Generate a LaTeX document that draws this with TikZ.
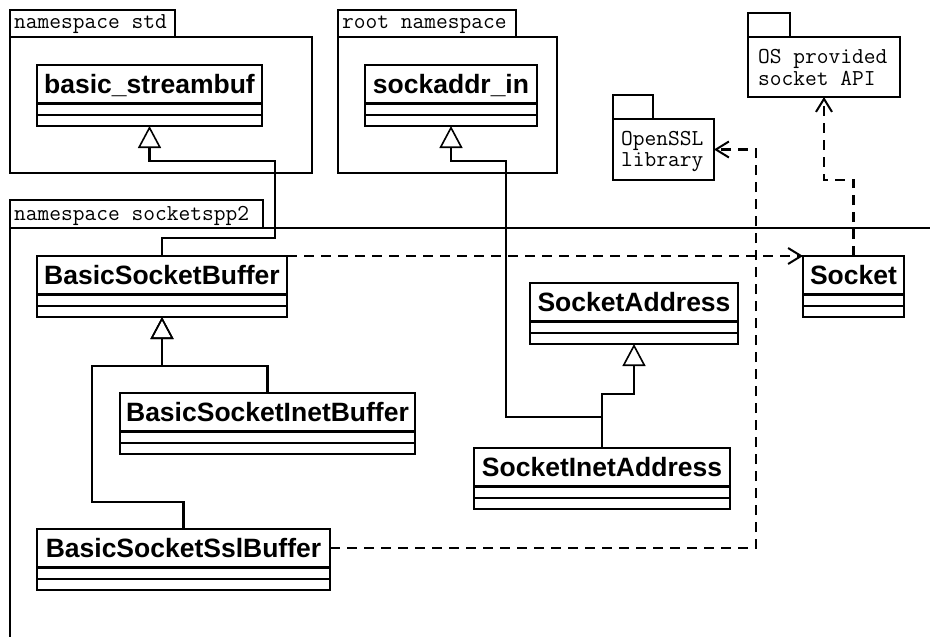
\documentclass[tikz,border=0pt]{standalone}
\usepackage{fontspec}
\setmainfont{Liberation Sans}
\usetikzlibrary{arrows.meta,calc}
\tikzset{
 ln/.style={line width=2.2pt},
 clsbox/.style={draw, line width=2.2pt, fill=white, inner sep=0pt, outer sep=0pt},
 clsname/.style={font=\fontsize{26.5}{28}\selectfont\bfseries, inner sep=0pt},
 pkglabel/.style={font=\ttfamily\fontsize{22.8}{24}\selectfont, inner sep=0pt, anchor=base west},
 pkgbox/.style={draw, line width=2.2pt, inner sep=0pt, outer sep=0pt, anchor=north west},
 inh/.style={line width=2.2pt, -{Triangle[open, length=22pt, width=23pt, line width=1.6pt]}},
 dep/.style={line width=2.2pt, dash pattern=on 10pt off 7pt, -{Straight Barb[length=13pt, width=16pt, line width=2pt]}},
}
\newcommand\umlclass[5]{%
 \pgfmathsetmacro\ucw{#4-#2}%
 \pgfmathsetmacro\ucx{(#2+#4)/2}%
 \pgfmathsetmacro\ucy{#3+30.5}%
 \node[clsbox, minimum width=\ucw pt, minimum height=61pt] (#1) at (\ucx,\ucy) {};
 \node[clsname, anchor=base] (#1-label) at (\ucx,#3+28) {#5};
 \draw[ln] ([yshift=-38.5pt]#1.north west) -- ([yshift=-38.5pt]#1.north east);
 \draw[ln] ([yshift=-50pt]#1.north west) -- ([yshift=-50pt]#1.north east);
}
\begin{document}
\begin{tikzpicture}[x=1pt,y=-1pt]
\useasboundingbox (0,0) rectangle (930,637);
\clip (0,0) rectangle (930,637);
\fill[white] (0,0) rectangle (930,637);

% packages
\draw[ln] (10,10) rectangle (175,37);
\node[pkgbox, minimum width=302pt, minimum height=136pt] (std) at (10,37) {};
\node[pkglabel] (stdl) at (14,28) {namespace std};

\draw[ln] (338,10) rectangle (516,37);
\node[pkgbox, minimum width=219pt, minimum height=136pt] (root) at (338,37) {};
\node[pkglabel] (rootl) at (342,28) {root namespace};

\draw[ln] (10,200) rectangle (263,228);
\node[pkgbox, minimum width=1000pt, minimum height=500pt] (spp) at (10,228) {};
\node[pkglabel] (sppl) at (14,220) {namespace socketspp2};

\draw[ln] (613,95) rectangle (653,119);
\node[pkgbox, minimum width=101pt, minimum height=61pt] (ossl) at (613,119) {};
\node[pkglabel] (ossl1) at (621,145) {OpenSSL};
\node[pkglabel] (ossl2) at (621,166) {library};

\draw[ln] (748,13) rectangle (790,37);
\node[pkgbox, minimum width=152pt, minimum height=60pt] (os) at (748,37) {};
\node[pkglabel] (os1) at (758,63) {OS provided};
\node[pkglabel] (os2) at (758,85) {socket API};

% classes
\umlclass{bsf}{37}{65}{262}{basic\_streambuf}
\umlclass{sin}{365}{65}{537}{sockaddr\_in}
\umlclass{bsb}{37}{256}{287}{BasicSocketBuffer}
\umlclass{sock}{803}{256}{904}{Socket}
\umlclass{sa}{530}{283}{738}{SocketAddress}
\umlclass{bsib}{120}{393}{415}{BasicSocketInetBuffer}
\umlclass{sia}{474}{448}{730}{SocketInetAddress}
\umlclass{bssb}{37}{529}{330}{BasicSocketSslBuffer}

% connector bends
\coordinate (a1) at (275,238);
\coordinate (a2) at (275,161);
\coordinate (b1) at (506,417);
\coordinate (b2) at (506,161);
\coordinate (c1) at (634,394);
\coordinate (d1) at (162,366);
\coordinate (e1) at (92,502);
\coordinate (e2) at (92,366);
\coordinate (f1) at (756,548);
\coordinate (f2) at (756,149.5);
\coordinate (g1) at (824,180);

% generalizations
\draw[inh] (bsb.north) |- (a1) -- (a2) -| (bsf.south);
\draw[inh] (sia.north) |- (b1) -- (b2) -| (sin.south);
\draw[inh] (sia.north) |- (c1) -- (sa.south);
\draw[inh] (bsib.north) |- (d1) -- (bsb.south);
\draw[inh] (bssb.north) |- (e1) -- (e2) -- (d1) -- (bsb.south);

% dependencies
\draw[dep] (bsb.north east) -- (sock.north west);
\draw[dep] ([yshift=11.5pt]bssb.east) -- (f1) -- (f2) -- (ossl.east);
\draw[dep] (sock.north) |- (g1) -- (os.south);
\end{tikzpicture}
\end{document}
